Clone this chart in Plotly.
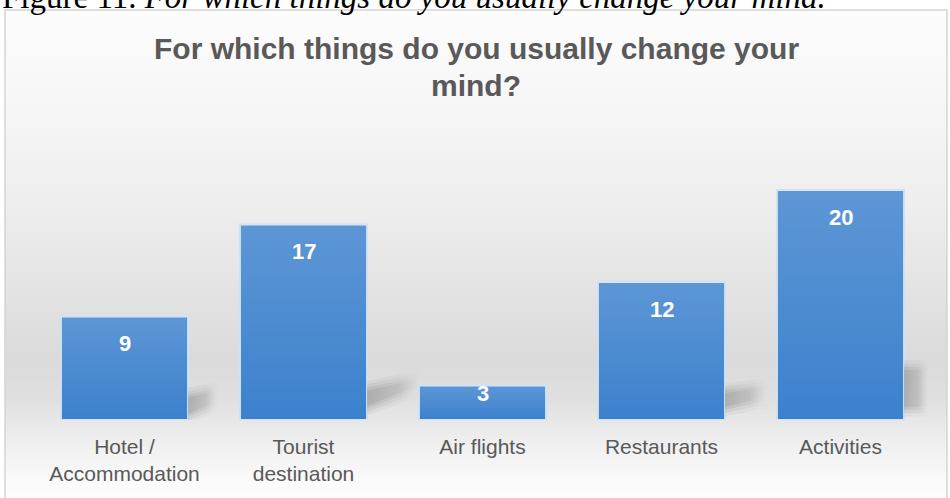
import plotly.graph_objects as go

# Survey answers
categories = ["Hotel /<br>Accommodation", "Tourist<br>destination", "Air flights",
              "Restaurants", "Activities"]
counts = [9, 17, 3, 12, 20]

chart_title_lines = ["For which things do you usually change your", "mind?"]
caption_lead = "Figure 11."
caption_text = "For which things do you usually change your mind."

W, H = 950, 498
M_L, M_R, M_T, M_B = 35, 20, 167, 78
Y_MAX = 22
PLOT_H = H - M_T - M_B
PLOT_W = W - M_L - M_R
BAR_W = 0.71
positions = list(range(len(categories)))


def px_x(x):
    return (x - M_L) / PLOT_W


def px_y(y):
    return (H - M_B - y) / PLOT_H


def lerp_grey(stops, y):
    for (y0, g0), (y1, g1) in zip(stops, stops[1:]):
        if y0 <= y <= y1:
            t = (y - y0) / (y1 - y0)
            g = round(g0 + (g1 - g0) * t)
            return f"rgb({g},{g},{g})"
    g = stops[-1][1]
    return f"rgb({g},{g},{g})"


# vertical grey gradient of the chart panel
grey_stops = [(10, 252), (100, 247), (200, 238), (300, 226), (360, 218),
              (400, 224), (440, 238), (480, 250), (498, 253)]
shapes = []
band = 4
for y in range(10, H, band):
    shapes.append(dict(type="rect", xref="paper", yref="paper", layer="below",
                       x0=px_x(5), x1=px_x(947), y0=px_y(y + band + 0.5), y1=px_y(y),
                       fillcolor=lerp_grey(grey_stops, y + band / 2),
                       line=dict(width=0)))
# panel border
shapes.append(dict(type="rect", xref="paper", yref="paper", layer="below",
                   x0=px_x(5), x1=px_x(947), y0=px_y(H + 5), y1=px_y(10),
                   fillcolor="rgba(0,0,0,0)", line=dict(color="#d4d4d4", width=1.5)))

fig = go.Figure()

# soft drop shadows falling to the right of the bars
# (reach to the right, rise, lower/upper edge at the bar) in axis units
shadow_style = [(0.16, 1.0, 0.3, 2.2), (0.29, 1.7, 1.0, 2.8), None,
                (0.23, 0.8, 0.9, 2.6), (0.13, 0.0, 0.9, 4.6)]
blur_steps = [(-0.25, 0.16), (0.0, 0.14), (0.3, 0.11), (0.6, 0.08)]
for p, v, sh in zip(positions, counts, shadow_style):
    if sh is None:
        continue
    dx, rise, lo, hi = sh
    x0 = p + BAR_W / 2
    for grow, alpha in blur_steps:
        gx = grow * 0.03
        fig.add_trace(go.Scatter(
            x=[x0, x0 + dx + gx, x0 + dx + gx, x0, x0],
            y=[lo - grow, lo + rise - grow, hi + rise * 0.6 + grow, hi + grow, lo - grow],
            mode="lines", line=dict(width=0), fill="toself",
            fillgradient=dict(type="horizontal",
                              colorscale=[[0, f"rgba(100,100,100,{alpha})"],
                                          [0.6, f"rgba(120,120,120,{alpha * 0.7:.3f})"],
                                          [1, "rgba(150,150,150,0)"]]),
            hoverinfo="skip",
        ))

fig.add_trace(go.Bar(
    x=positions, y=counts,
    marker=dict(color="#3c81cd", line=dict(color="#cfe2f5", width=2)),
    width=BAR_W,
))

# lighter sheen towards the top of every bar
for p, v in zip(positions, counts):
    xl, xr = p - BAR_W / 2 + 0.006, p + BAR_W / 2 - 0.006
    fig.add_trace(go.Scatter(
        x=[xl, xr, xr, xl, xl], y=[0, 0, v, v, 0],
        mode="lines", line=dict(width=0), fill="toself",
        fillgradient=dict(type="vertical",
                          colorscale=[[0, "rgba(255,255,255,0)"],
                                      [1, "rgba(255,255,255,0.17)"]]),
        hoverinfo="skip",
    ))

annotations = []
for p, v in zip(positions, counts):
    annotations.append(dict(x=p, y=v, xref="x", yref="y", text=f"<b>{v}</b>",
                            showarrow=False, yanchor="middle",
                            yshift=-27 if v > 5 else -8,
                            font=dict(family="Liberation Sans, Arial", size=22, color="white")))

for i, line in enumerate(chart_title_lines):
    annotations.append(dict(xref="paper", yref="paper", x=px_x(476), y=px_y(48 + 37 * i),
                            text=f"<b>{line}</b>", showarrow=False,
                            xanchor="center", yanchor="middle",
                            font=dict(family="Liberation Sans, Arial", size=30, color="#595959")))

annotations.append(dict(xref="paper", yref="paper", x=px_x(0), y=px_y(17),
                        xanchor="left", yanchor="bottom", showarrow=False,
                        text=f"{caption_lead} <i>{caption_text}</i>",
                        font=dict(family="Liberation Serif, Times New Roman", size=33, color="black")))

fig.update_layout(
    width=W, height=H,
    margin=dict(l=M_L, r=M_R, t=M_T, b=M_B),
    paper_bgcolor="white", plot_bgcolor="rgba(0,0,0,0)",
    showlegend=False,
    shapes=shapes,
    annotations=annotations,
    xaxis=dict(range=[-0.5, len(categories) - 0.5],
               tickmode="array", tickvals=positions, ticktext=categories,
               showgrid=False, showline=False, zeroline=False, ticks="",
               ticklabelstandoff=12,
               tickfont=dict(family="Liberation Sans, Arial", size=21, color="#595959")),
    yaxis=dict(range=[0, Y_MAX], visible=False),
)

fig.write_html("out.html")
